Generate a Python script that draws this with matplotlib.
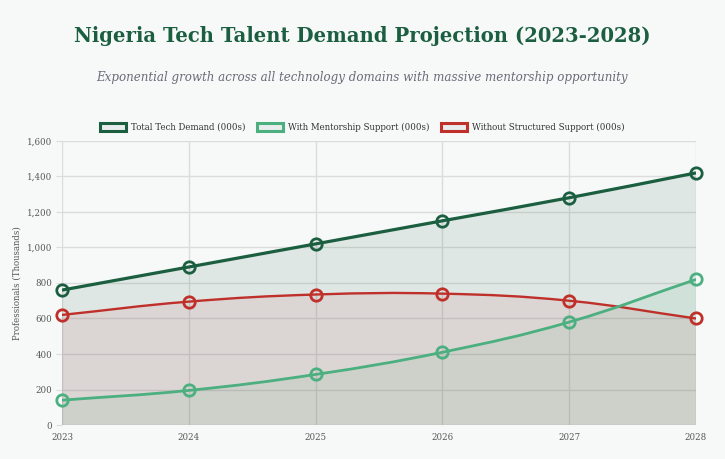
import numpy as np
import matplotlib
matplotlib.use('Agg')
import matplotlib.pyplot as plt
from matplotlib.path import Path
from matplotlib.patches import PathPatch, Patch
from matplotlib.ticker import FuncFormatter

# Data
years = [2023, 2024, 2025, 2026, 2027, 2028]
total_demand = [760, 890, 1020, 1150, 1280, 1420]
with_mentorship = [140, 195, 285, 410, 580, 820]
without_support = [620, 695, 735, 740, 700, 600]

series_labels = ['Total Tech Demand (000s)', 'With Mentorship Support (000s)',
                 'Without Structured Support (000s)']

dark_green = '#1b5e40'
light_green = '#4caf80'
red = '#c0302a'
bg = '#f7f9f9'
grid_c = '#dcdcdc'
text_c = '#555555'

plt.rcParams['font.family'] = ['DejaVu Serif']

fig = plt.figure(figsize=(7.25, 4.59), dpi=100, facecolor=bg)
ax = fig.add_axes([0.0855, 0.074, 0.8745, 0.619])
ax.set_facecolor(bg)

# pixel scale used for chart.js-like spline control points
px_x = 126.8
px_y = 284 / 1600.0


def spline_path(xs, ys, tension=0.4):
    xs = np.asarray(xs, float)
    ys = np.asarray(ys, float)
    n = len(xs)
    cps = []
    for i in range(n):
        prev_i = max(i - 1, 0)
        next_i = min(i + 1, n - 1)
        d01 = np.hypot((xs[i] - xs[prev_i]) * px_x, (ys[i] - ys[prev_i]) * px_y)
        d12 = np.hypot((xs[next_i] - xs[i]) * px_x, (ys[next_i] - ys[i]) * px_y)
        tot = d01 + d12
        s01 = d01 / tot if tot else 0
        s12 = d12 / tot if tot else 0
        fa = tension * s01
        fb = tension * s12
        dx = xs[next_i] - xs[prev_i]
        dy = ys[next_i] - ys[prev_i]
        cps.append(((xs[i] - fa * dx, ys[i] - fa * dy), (xs[i] + fb * dx, ys[i] + fb * dy)))
    verts = [(xs[0], ys[0])]
    codes = [Path.MOVETO]
    for i in range(n - 1):
        verts += [cps[i][1], cps[i + 1][0], (xs[i + 1], ys[i + 1])]
        codes += [Path.CURVE4] * 3
    return verts, codes


series = [
    (total_demand, dark_green, (27 / 255, 94 / 255, 64 / 255, 0.11), 2.3),
    (with_mentorship, light_green, (76 / 255, 175 / 255, 128 / 255, 0.10), 2.0),
    (without_support, red, (192 / 255, 48 / 255, 60 / 255, 0.09), 1.7),
]

# draw in reverse so the first dataset ends up on top
for idx in range(len(series) - 1, -1, -1):
    vals, col, fill_col, lw = series[idx]
    verts, codes = spline_path(years, vals)
    fill_verts = verts + [(years[-1], 0), (years[0], 0), (years[0], vals[0])]
    fill_codes = codes + [Path.LINETO, Path.LINETO, Path.CLOSEPOLY]
    ax.add_patch(PathPatch(Path(fill_verts, fill_codes), facecolor=fill_col,
                           edgecolor='none', zorder=1 + idx * 0.01))
    ax.add_patch(PathPatch(Path(verts, codes), facecolor='none', edgecolor=col,
                           lw=lw, zorder=3 + (2 - idx)))
    ax.plot(years, vals, 'o', ms=8.2, mfc='none', mec=col, mew=2.0,
            zorder=4 + (2 - idx), clip_on=False)

ax.set_xlim(2023, 2028)
ax.set_ylim(0, 1600)
ax.set_xticks(years)
ax.set_yticks(range(0, 1601, 200))
ax.yaxis.set_major_formatter(FuncFormatter(lambda v, p: f'{int(v):,}'))
ax.grid(True, color=grid_c, lw=1, zorder=0)
ax.set_axisbelow(True)
for s in ax.spines.values():
    s.set_visible(False)
ax.tick_params(axis='y', length=4, color=grid_c, labelsize=6.2, labelcolor=text_c, pad=3)
ax.tick_params(axis='x', length=0, labelsize=6.2, labelcolor=text_c, pad=6)
ax.set_ylabel('Professionals (Thousands)', fontsize=6.2, color=text_c, labelpad=4)

fig.text(0.5, 0.921, 'Nigeria Tech Talent Demand Projection (2023-2028)', ha='center',
         va='center', fontsize=14.1, fontweight='bold', color=dark_green)
fig.text(0.5, 0.832, 'Exponential growth across all technology domains with massive mentorship opportunity',
         ha='center', va='center', fontsize=8.6, style='italic', color='#6b6b78')

handles = [Patch(facecolor='#e8ecec', edgecolor=c, lw=2.2) for c in (dark_green, light_green, red)]
fig.legend(handles, series_labels, loc='center', bbox_to_anchor=(0.5, 0.723), ncol=3,
           frameon=False, fontsize=6.2, handlelength=3.0, handleheight=1.1,
           columnspacing=1.3, handletextpad=0.6, labelcolor='#333333')

fig.savefig('out.png', dpi=100, facecolor=bg)
